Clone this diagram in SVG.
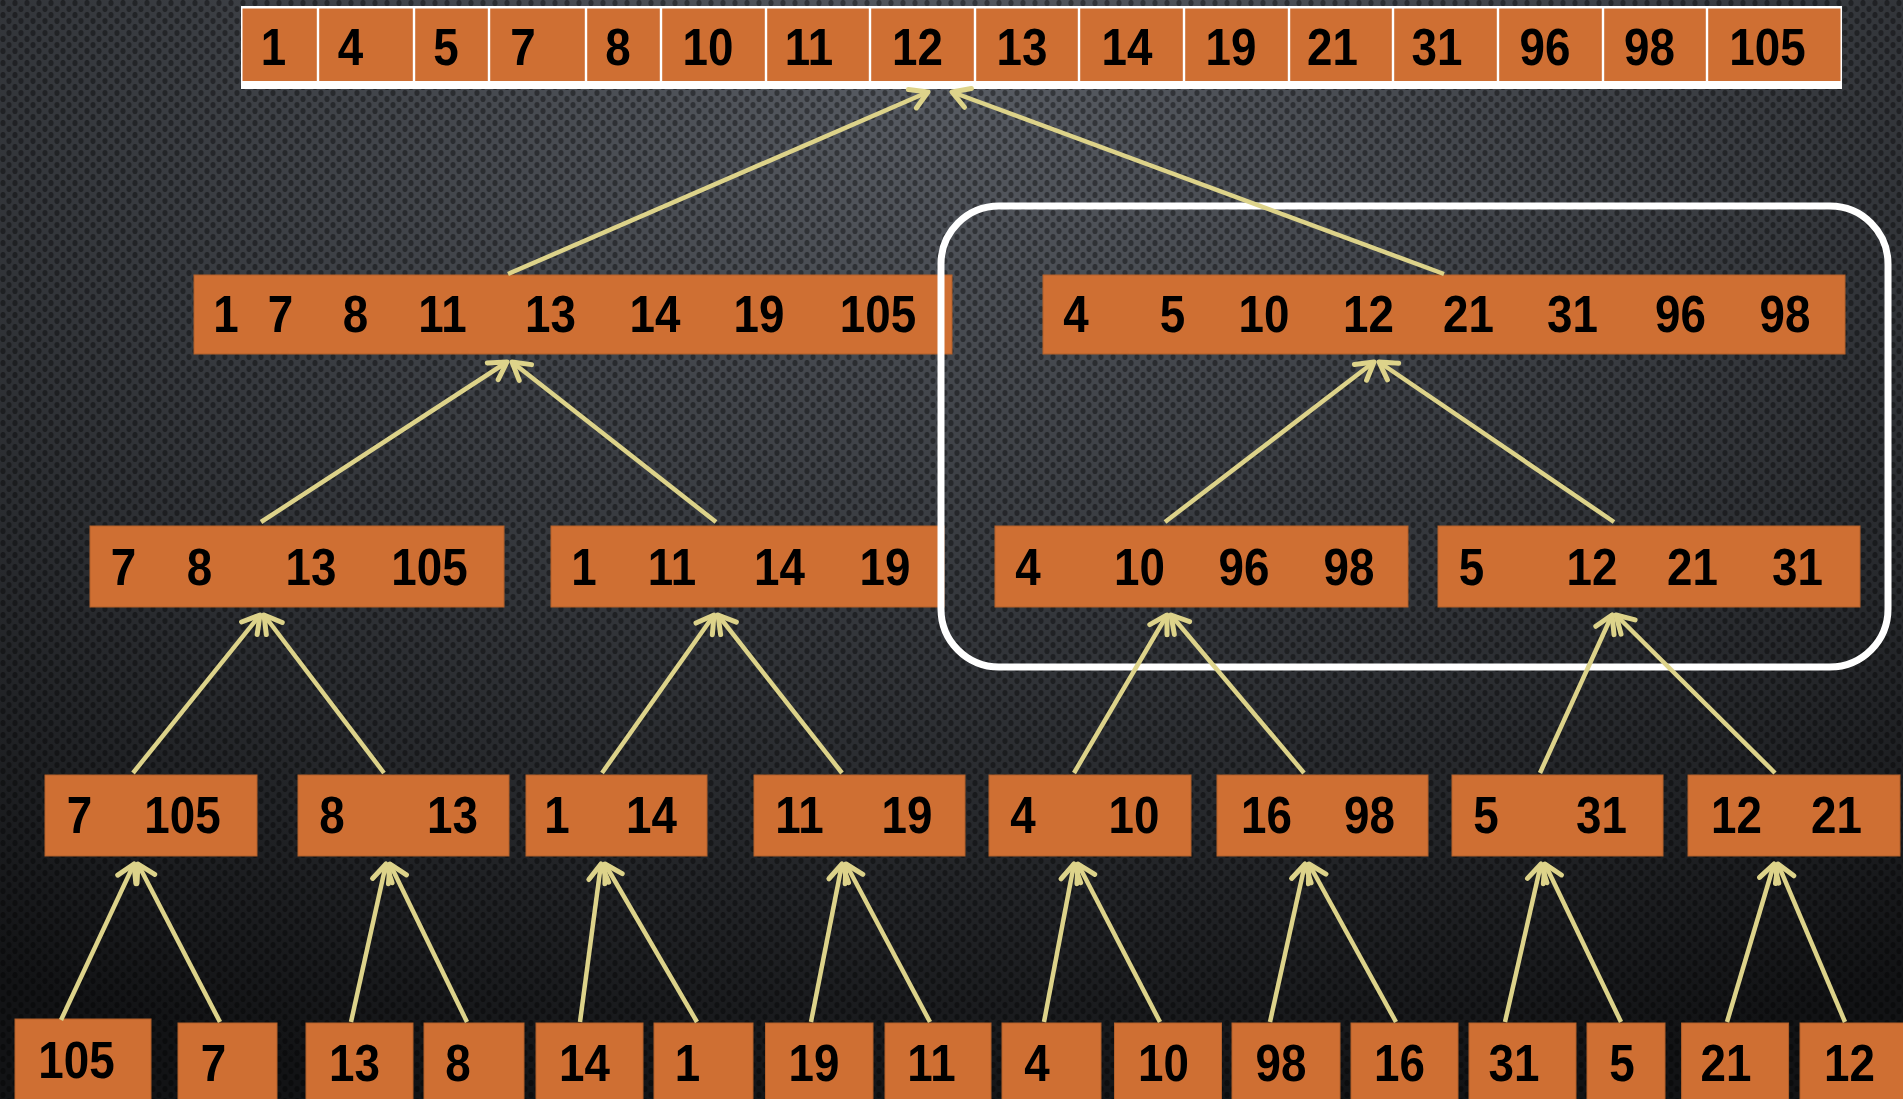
<svg xmlns="http://www.w3.org/2000/svg" width="1903" height="1099" viewBox="0 0 1903 1099">
<defs>
<radialGradient id="bg" cx="0.5" cy="0.08" r="0.95" gradientUnits="objectBoundingBox">
<stop offset="0" stop-color="#585c63"/>
<stop offset="0.45" stop-color="#383b40"/>
<stop offset="1" stop-color="#121315"/>
</radialGradient>
<pattern id="dots" patternUnits="userSpaceOnUse" width="12" height="12">
<ellipse cx="3" cy="3" rx="2.6" ry="3.1" fill="#000" fill-opacity="0.38"/>
<ellipse cx="9" cy="9" rx="2.6" ry="3.1" fill="#000" fill-opacity="0.38"/>
</pattern>
<marker id="arr" markerUnits="userSpaceOnUse" viewBox="-25 -15 30 30" markerWidth="30" markerHeight="30" refX="0" refY="0" orient="auto" overflow="visible">
<path d="M-17,-10 L0,0 L-17,10" fill="none" stroke="#ddd38a" stroke-width="5" stroke-linecap="round" stroke-linejoin="round"/>
</marker>
</defs>
<style>
.box{fill:#cf6f33;stroke:#b3602b;stroke-width:1}
.cell{fill:#cf6f33}
.t{font-family:"Liberation Sans",Arial,sans-serif;font-weight:bold;font-size:52px;text-anchor:middle;fill:#000}
.c{stroke:#ddd38a;stroke-width:4.5;fill:none;marker-end:url(#arr)}
.frame{fill:none;stroke:#fff;stroke-width:7}
</style>
<rect width="1903" height="1099" fill="url(#bg)"/>
<rect width="1903" height="1099" fill="url(#dots)"/>

<g id="merged">
<rect x="241" y="6" width="1601" height="83" fill="#fff"/>
<rect class="cell" x="242.5" y="8.5" width="74.3" height="72.5"/>
<rect class="cell" x="319.2" y="8.5" width="93.6" height="72.5"/>
<rect class="cell" x="415.2" y="8.5" width="72.6" height="72.5"/>
<rect class="cell" x="490.2" y="8.5" width="94.6" height="72.5"/>
<rect class="cell" x="587.2" y="8.5" width="72.6" height="72.5"/>
<rect class="cell" x="662.2" y="8.5" width="102.6" height="72.5"/>
<rect class="cell" x="767.2" y="8.5" width="101.6" height="72.5"/>
<rect class="cell" x="871.2" y="8.5" width="102.6" height="72.5"/>
<rect class="cell" x="976.2" y="8.5" width="101.6" height="72.5"/>
<rect class="cell" x="1080.2" y="8.5" width="102.6" height="72.5"/>
<rect class="cell" x="1185.2" y="8.5" width="102.6" height="72.5"/>
<rect class="cell" x="1290.2" y="8.5" width="101.6" height="72.5"/>
<rect class="cell" x="1394.2" y="8.5" width="102.6" height="72.5"/>
<rect class="cell" x="1499.2" y="8.5" width="102.6" height="72.5"/>
<rect class="cell" x="1604.2" y="8.5" width="101.6" height="72.5"/>
<rect class="cell" x="1708.2" y="8.5" width="132.3" height="72.5"/>
<text class="t" transform="scale(0.88 1)" y="65"><tspan x="310.80">1</tspan><tspan x="398.30">4</tspan><tspan x="506.82">5</tspan><tspan x="594.32">7</tspan><tspan x="702.27">8</tspan><tspan x="804.55">10</tspan><tspan x="919.32">11</tspan><tspan x="1042.61">12</tspan><tspan x="1161.36">13</tspan><tspan x="1280.68">14</tspan><tspan x="1398.86">19</tspan><tspan x="1514.20">21</tspan><tspan x="1632.95">31</tspan><tspan x="1755.68">96</tspan><tspan x="1874.43">98</tspan><tspan x="2008.52">105</tspan></text>
</g>

<g id="l2a"><rect class="box" x="194" y="275" width="758" height="79"/>
<text class="t" transform="scale(0.88 1)" y="332"><tspan x="256.82">1</tspan><tspan x="318.75">7</tspan><tspan x="403.98">8</tspan><tspan x="502.84">11</tspan><tspan x="625.57">13</tspan><tspan x="744.32">14</tspan><tspan x="862.50">19</tspan><tspan x="997.73">105</tspan></text></g>
<g id="l2b"><rect class="box" x="1043" y="275" width="802" height="79"/>
<text class="t" transform="scale(0.88 1)" y="332"><tspan x="1222.73">4</tspan><tspan x="1332.39">5</tspan><tspan x="1436.36">10</tspan><tspan x="1555.11">12</tspan><tspan x="1668.75">21</tspan><tspan x="1786.93">31</tspan><tspan x="1909.66">96</tspan><tspan x="2028.41">98</tspan></text></g>

<g id="l3a"><rect class="box" x="90" y="526" width="414" height="81"/>
<text class="t" transform="scale(0.88 1)" y="585"><tspan x="140.34">7</tspan><tspan x="226.70">8</tspan><tspan x="353.41">13</tspan><tspan x="488.07">105</tspan></text></g>
<g id="l3b"><rect class="box" x="551" y="526" width="393" height="81"/>
<text class="t" transform="scale(0.88 1)" y="585"><tspan x="663.64">1</tspan><tspan x="763.64">11</tspan><tspan x="885.80">14</tspan><tspan x="1005.68">19</tspan></text></g>
<g id="l3c"><rect class="box" x="995" y="526" width="413" height="81"/>
<text class="t" transform="scale(0.88 1)" y="585"><tspan x="1168.18">4</tspan><tspan x="1294.89">10</tspan><tspan x="1413.64">96</tspan><tspan x="1532.95">98</tspan></text></g>
<g id="l3d"><rect class="box" x="1438" y="526" width="422" height="81"/>
<text class="t" transform="scale(0.88 1)" y="585"><tspan x="1672.16">5</tspan><tspan x="1809.09">12</tspan><tspan x="1923.30">21</tspan><tspan x="2042.61">31</tspan></text></g>

<g id="l4a"><rect class="box" x="45" y="775" width="212" height="81"/>
<text class="t" transform="scale(0.88 1)" y="833"><tspan x="90.34">7</tspan><tspan x="207.39">105</tspan></text></g>
<g id="l4b"><rect class="box" x="298" y="775" width="211" height="81"/>
<text class="t" transform="scale(0.88 1)" y="833"><tspan x="377.27">8</tspan><tspan x="514.20">13</tspan></text></g>
<g id="l4c"><rect class="box" x="526" y="775" width="181" height="81"/>
<text class="t" transform="scale(0.88 1)" y="833"><tspan x="632.95">1</tspan><tspan x="740.34">14</tspan></text></g>
<g id="l4d"><rect class="box" x="754" y="775" width="211" height="81"/>
<text class="t" transform="scale(0.88 1)" y="833"><tspan x="908.52">11</tspan><tspan x="1030.68">19</tspan></text></g>
<g id="l4e"><rect class="box" x="989" y="775" width="202" height="81"/>
<text class="t" transform="scale(0.88 1)" y="833"><tspan x="1162.50">4</tspan><tspan x="1288.64">10</tspan></text></g>
<g id="l4f"><rect class="box" x="1217" y="775" width="211" height="81"/>
<text class="t" transform="scale(0.88 1)" y="833"><tspan x="1439.20">16</tspan><tspan x="1556.25">98</tspan></text></g>
<g id="l4g"><rect class="box" x="1452" y="775" width="211" height="81"/>
<text class="t" transform="scale(0.88 1)" y="833"><tspan x="1688.64">5</tspan><tspan x="1819.89">31</tspan></text></g>
<g id="l4h"><rect class="box" x="1688" y="775" width="212" height="81"/>
<text class="t" transform="scale(0.88 1)" y="833"><tspan x="1973.30">12</tspan><tspan x="2086.93">21</tspan></text></g>

<g id="l5-1"><rect class="box" x="15" y="1019" width="136" height="90"/><text class="t" transform="scale(0.88 1)" x="86.93" y="1078">105</text></g>
<g id="l5-2"><rect class="box" x="178" y="1023" width="99" height="90"/><text class="t" transform="scale(0.88 1)" x="242.61" y="1081">7</text></g>
<g id="l5-3"><rect class="box" x="306" y="1023" width="107" height="90"/><text class="t" transform="scale(0.88 1)" x="402.84" y="1081">13</text></g>
<g id="l5-4"><rect class="box" x="424" y="1023" width="100" height="90"/><text class="t" transform="scale(0.88 1)" x="520.45" y="1081">8</text></g>
<g id="l5-5"><rect class="box" x="536" y="1023" width="107" height="90"/><text class="t" transform="scale(0.88 1)" x="664.20" y="1081">14</text></g>
<g id="l5-6"><rect class="box" x="654" y="1023" width="99" height="90"/><text class="t" transform="scale(0.88 1)" x="781.25" y="1081">1</text></g>
<g id="l5-7"><rect class="box" x="765.5" y="1023" width="107.5" height="90"/><text class="t" transform="scale(0.88 1)" x="925.00" y="1081">19</text></g>
<g id="l5-8"><rect class="box" x="885" y="1023" width="106" height="90"/><text class="t" transform="scale(0.88 1)" x="1058.52" y="1081">11</text></g>
<g id="l5-9"><rect class="box" x="1002" y="1023" width="99" height="90"/><text class="t" transform="scale(0.88 1)" x="1178.41" y="1081">4</text></g>
<g id="l5-10"><rect class="box" x="1114.5" y="1023" width="107" height="90"/><text class="t" transform="scale(0.88 1)" x="1322.16" y="1081">10</text></g>
<g id="l5-11"><rect class="box" x="1232" y="1023" width="108" height="90"/><text class="t" transform="scale(0.88 1)" x="1455.68" y="1081">98</text></g>
<g id="l5-12"><rect class="box" x="1351" y="1023" width="107" height="90"/><text class="t" transform="scale(0.88 1)" x="1590.34" y="1081">16</text></g>
<g id="l5-13"><rect class="box" x="1469" y="1023" width="107" height="90"/><text class="t" transform="scale(0.88 1)" x="1720.45" y="1081">31</text></g>
<g id="l5-14"><rect class="box" x="1587" y="1023" width="78" height="90"/><text class="t" transform="scale(0.88 1)" x="1843.18" y="1081">5</text></g>
<g id="l5-15"><rect class="box" x="1681.6" y="1023" width="107" height="90"/><text class="t" transform="scale(0.88 1)" x="1961.36" y="1081">21</text></g>
<g id="l5-16"><rect class="box" x="1800" y="1023" width="110" height="90"/><text class="t" transform="scale(0.88 1)" x="2101.70" y="1081">12</text></g>

<g id="highlight"><rect class="frame" x="941" y="206" width="947" height="461" rx="58"/></g>

<g id="connectors">
<line class="c" x1="508" y1="274" x2="928" y2="92"/>
<line class="c" x1="1444" y1="274" x2="952" y2="92"/>
<line class="c" x1="261" y1="522" x2="507" y2="362"/>
<line class="c" x1="716" y1="522" x2="512" y2="362"/>
<line class="c" x1="1165" y1="522" x2="1374" y2="362"/>
<line class="c" x1="1614" y1="522" x2="1379" y2="362"/>
<line class="c" x1="133" y1="773" x2="260" y2="615"/>
<line class="c" x1="384" y1="773" x2="264" y2="615"/>
<line class="c" x1="602" y1="773" x2="714" y2="615"/>
<line class="c" x1="842" y1="773" x2="718" y2="615"/>
<line class="c" x1="1074" y1="773" x2="1167" y2="615"/>
<line class="c" x1="1304" y1="773" x2="1171" y2="615"/>
<line class="c" x1="1540" y1="773" x2="1612" y2="615"/>
<line class="c" x1="1775" y1="773" x2="1616" y2="615"/>
<line class="c" x1="61" y1="1020" x2="134" y2="864"/>
<line class="c" x1="220" y1="1022" x2="138" y2="864"/>
<line class="c" x1="351" y1="1022" x2="386" y2="864"/>
<line class="c" x1="467" y1="1022" x2="390" y2="864"/>
<line class="c" x1="580" y1="1022" x2="601" y2="864"/>
<line class="c" x1="697" y1="1022" x2="605" y2="864"/>
<line class="c" x1="811" y1="1022" x2="842" y2="864"/>
<line class="c" x1="930" y1="1022" x2="846" y2="864"/>
<line class="c" x1="1044" y1="1022" x2="1074" y2="864"/>
<line class="c" x1="1160" y1="1022" x2="1078" y2="864"/>
<line class="c" x1="1270" y1="1022" x2="1305" y2="864"/>
<line class="c" x1="1396" y1="1022" x2="1309" y2="864"/>
<line class="c" x1="1505" y1="1022" x2="1541" y2="864"/>
<line class="c" x1="1621" y1="1022" x2="1545" y2="864"/>
<line class="c" x1="1727" y1="1022" x2="1774" y2="864"/>
<line class="c" x1="1845" y1="1022" x2="1778" y2="864"/>
</g>
</svg>
